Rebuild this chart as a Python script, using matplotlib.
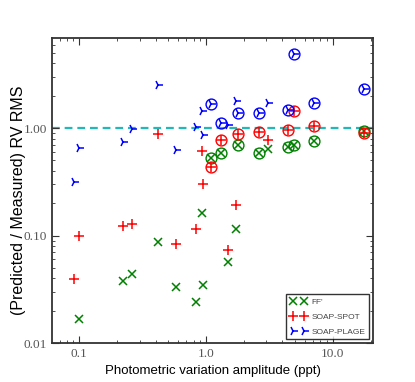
import numpy as np
import matplotlib
matplotlib.use('Agg')
import matplotlib.pyplot as plt
from matplotlib.ticker import FormatStrFormatter

# amplitudes (ppt) of the stars without a circle
amp = [0.091, 0.100, 0.221, 0.262, 0.42, 0.575, 0.836, 0.925, 0.95, 1.49, 1.71, 3.08]
ff_rms = [np.nan, 0.0166, 0.0375, 0.0439, 0.0872, 0.033, 0.024, 0.164, 0.035, 0.0573, 0.1145, 0.641]
spot_rms = [0.0397, 0.100, 0.124, 0.128, 0.879, 0.083, 0.115, 0.61, 0.305, 0.073, 0.193, 0.773]
plage_rms = [0.316, 0.656, 0.74, 0.98, 2.50, 0.624, 1.03, 1.45, 0.86, 1.07, 1.77, 1.72]

# circled stars
amp_c = [1.09, 1.31, 1.80, 2.61, 4.44, 4.95, 7.12, 17.7]
ff_rms_c = [0.525, 0.589, 0.69, 0.593, 0.665, 0.69, 0.757, 0.944]
spot_rms_c = [0.433, 0.773, 0.874, 0.924, 0.958, 1.44, 1.04, 0.892]
plage_rms_c = [1.67, 1.106, 1.39, 1.39, 1.49, 4.9, 1.70, 2.32]

fig = plt.figure(figsize=(4.15, 3.82), dpi=100)
ax = fig.add_axes([0.1253, 0.102, 0.7737, 0.7985])

ax.axhline(1.0, color='#20b8b8', ls='--', lw=1.6, dashes=(3.5, 2.2), zorder=1)

series = [('g', 'x', 5.5, "FF'", ff_rms, ff_rms_c),
          ('r', '+', 6.5, 'SOAP-SPOT', spot_rms, spot_rms_c),
          ('b', '4', 7, 'SOAP-PLAGE', plage_rms, plage_rms_c)]
for col, mk, ms, lab, y, yc in series:
    ax.plot(amp, y, ls='none', marker=mk, color=col, ms=ms, mew=1.1, label=lab)
    ax.plot(amp_c, yc, ls='none', marker=mk, color=col, ms=ms, mew=1.1)
    ax.plot(amp_c, yc, ls='none', marker='o', mfc='none', mec=col, ms=7.8, mew=1.0)

ax.set_xscale('log')
ax.set_yscale('log')
ax.set_xlim(0.061, 20.8)
ax.set_ylim(0.01, 6.9)
ax.set_xticks([0.1, 1.0, 10.0])
ax.set_yticks([0.01, 0.1, 1.0])
ax.xaxis.set_major_formatter(FormatStrFormatter('%.1f'))
ax.yaxis.set_major_formatter(FormatStrFormatter('%.2f'))
ax.tick_params(which='both', direction='in', top=True, right=True, colors='#333333',
               labelcolor='#555555')
ax.tick_params(which='major', length=5)
ax.tick_params(which='minor', length=2.5)
for lbl in ax.get_xticklabels() + ax.get_yticklabels():
    lbl.set_family('Liberation Serif')
    lbl.set_fontsize(9.5)
for s in ax.spines.values():
    s.set_linewidth(1.3)
    s.set_color('#333333')

ax.set_xlabel('Photometric variation amplitude (ppt)', family='Liberation Sans', fontsize=9.5)
ax.set_ylabel('(Predicted / Measured) RV RMS', family='Liberation Sans', fontsize=11.5)
ax.yaxis.set_label_coords(-0.082, 0.468)

leg = ax.legend(loc='lower right', numpoints=2, prop={'family': 'Liberation Sans', 'size': 6},
                fancybox=False, edgecolor='black', borderaxespad=0.45, handlelength=2.0,
                handletextpad=0.6, labelspacing=0.85, borderpad=0.45)
leg.get_frame().set_linewidth(1.0)
for t in leg.get_texts():
    t.set_color('#444444')

fig.savefig('out.png', dpi=100)
